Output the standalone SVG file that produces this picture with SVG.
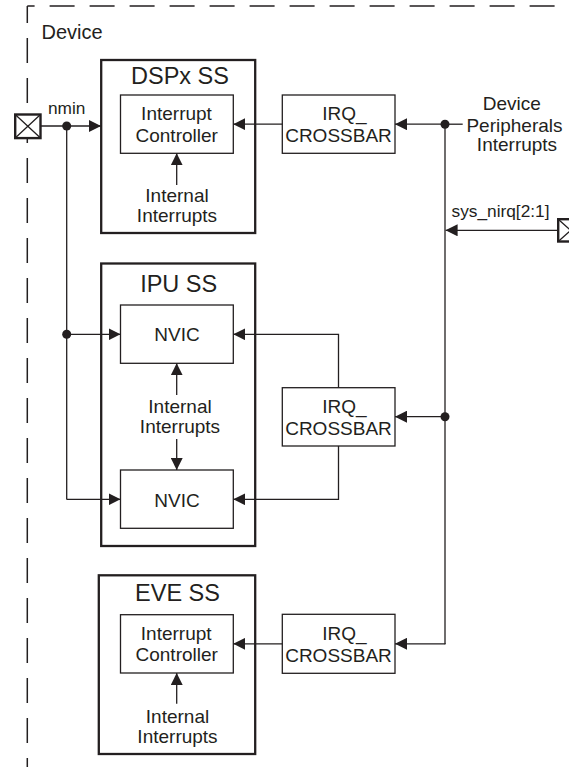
<svg xmlns="http://www.w3.org/2000/svg" width="569" height="767" viewBox="0 0 569 767">
<defs>
<marker id="ah" markerUnits="userSpaceOnUse" markerWidth="12" markerHeight="12" viewBox="0 0 12 12" refX="12" refY="6" orient="auto">
<path d="M0,0 L12,6 L0,12 z" fill="#231f20"/>
</marker>
<style>
.t{font-family:"Liberation Sans",Arial,Helvetica,sans-serif;fill:#231f20}
.lbl{font-size:19px;text-anchor:middle}
.ttl{font-size:23.5px;text-anchor:middle}
.sm{font-size:17.3px}
.outer{fill:#fff;stroke:#231f20;stroke-width:2.3}
.inner{fill:#fff;stroke:#231f20;stroke-width:1.3}
.ln{fill:none;stroke:#231f20;stroke-width:1.3}
.arr{fill:none;stroke:#231f20;stroke-width:1.3;marker-end:url(#ah)}
.dash{fill:none;stroke:#231f20;stroke-width:1.5;stroke-dasharray:25 15}
.pad{fill:#fff;stroke:#231f20;stroke-width:2.4}
.dot{fill:#231f20}
</style>
</defs>
<rect width="569" height="767" fill="#fff"/>

<g id="device">
<line class="dash" x1="27.3" y1="6" x2="569" y2="6" stroke-dashoffset="17.7"/>
<line class="dash" x1="27.3" y1="6" x2="27.3" y2="767" stroke-dashoffset="8"/>
<text class="t" x="41.5" y="38.5" font-size="20">Device</text>
</g>

<g id="dspx-ss">
<rect class="outer" x="101.2" y="60" width="154" height="173"/>
<text class="t ttl" x="180" y="84.3">DSPx SS</text>
<rect class="inner" x="120.5" y="95" width="112.8" height="58.3"/>
<text class="t lbl" x="176.5" y="120">Interrupt</text>
<text class="t lbl" x="176.7" y="141.7">Controller</text>
<text class="t lbl" x="177" y="201.7">Internal</text>
<text class="t lbl" x="177" y="221.7">Interrupts</text>
</g>

<g id="ipu-ss">
<rect class="outer" x="101.2" y="263.5" width="154" height="282.5"/>
<text class="t ttl" x="178.7" y="291.7">IPU SS</text>
<rect id="nvic-top" class="inner" x="120.5" y="305" width="112.8" height="58.3"/>
<text class="t lbl" x="177" y="340.7">NVIC</text>
<rect id="nvic-bottom" class="inner" x="120.5" y="470" width="112.8" height="58.3"/>
<text class="t lbl" x="177" y="507">NVIC</text>
<text class="t lbl" x="180" y="413.3">Internal</text>
<text class="t lbl" x="180" y="433">Interrupts</text>
</g>

<g id="eve-ss">
<rect class="outer" x="98.8" y="575.3" width="156.4" height="178.7"/>
<text class="t ttl" x="177.5" y="601">EVE SS</text>
<rect class="inner" x="120.5" y="614.7" width="112.8" height="58.3"/>
<text class="t lbl" x="176.2" y="639.7">Interrupt</text>
<text class="t lbl" x="176.7" y="661.3">Controller</text>
<text class="t lbl" x="177.5" y="722.7">Internal</text>
<text class="t lbl" x="177.5" y="742.7">Interrupts</text>
</g>

<g id="crossbar-dspx">
<rect class="inner" x="282.3" y="95" width="112.7" height="58.3"/>
<text class="t lbl" x="344.5" y="120">IRQ_</text>
<text class="t lbl" x="338.5" y="141.7">CROSSBAR</text>
</g>

<g id="crossbar-ipu">
<rect class="inner" x="282.3" y="387.7" width="112.7" height="58.3"/>
<text class="t lbl" x="344.5" y="413.3">IRQ_</text>
<text class="t lbl" x="338.5" y="435">CROSSBAR</text>
</g>

<g id="crossbar-eve">
<rect class="inner" x="282.3" y="614.3" width="112.7" height="59"/>
<text class="t lbl" x="344.5" y="640">IRQ_</text>
<text class="t lbl" x="338.5" y="661.7">CROSSBAR</text>
</g>

<g id="pad-nmin">
<rect class="pad" x="15.2" y="114.5" width="25.3" height="23.6"/>
<path class="ln" d="M15.2,114.5 L40.5,138.1 M40.5,114.5 L15.2,138.1" stroke-width="1.8"/>
<text class="t sm" x="48" y="114.3">nmin</text>
</g>

<g id="pad-sys-nirq">
<rect class="pad" x="558.2" y="219.2" width="25" height="22.3"/>
<path class="ln" d="M558.2,219.2 L583.2,241.5 M583.2,219.2 L558.2,241.5" stroke-width="1.8"/>
<text class="t sm" x="451.5" y="216.7">sys_nirq[2:1]</text>
</g>

<g id="peripherals-label">
<text class="t lbl" x="511.7" y="110">Device</text>
<text class="t lbl" x="514.5" y="131.7">Peripherals</text>
<text class="t lbl" x="517" y="151">Interrupts</text>
</g>

<g id="connectors">
<line class="arr" x1="40.5" y1="126" x2="101" y2="126"/>
<line class="ln" x1="66.7" y1="126" x2="66.7" y2="499.5"/>
<line class="arr" x1="66.7" y1="334.3" x2="120.5" y2="334.3"/>
<line class="arr" x1="66.7" y1="499.3" x2="120.5" y2="499.3"/>
<circle class="dot" cx="66.7" cy="126" r="4.5"/>
<circle class="dot" cx="66.7" cy="334.3" r="4.5"/>

<line class="arr" x1="176.7" y1="185" x2="176.7" y2="153.3"/>
<line class="arr" x1="176.7" y1="395" x2="176.7" y2="363.3"/>
<line class="arr" x1="176.7" y1="439" x2="176.7" y2="470"/>
<line class="arr" x1="176.7" y1="703.7" x2="176.7" y2="673"/>

<line class="arr" x1="282.3" y1="124.2" x2="233.3" y2="124.2"/>
<polyline class="arr" points="338.5,387.7 338.5,334.3 233.3,334.3"/>
<polyline class="arr" points="338.5,446 338.5,499.3 233.3,499.3"/>
<line class="arr" x1="282.3" y1="643.8" x2="233.3" y2="643.8"/>

<line class="ln" x1="445" y1="124.2" x2="445" y2="644.2"/>
<line class="ln" x1="445" y1="124.2" x2="462.7" y2="124.2"/>
<line class="arr" x1="445" y1="124.2" x2="395" y2="124.2"/>
<line class="arr" x1="445" y1="416.7" x2="395" y2="416.7"/>
<polyline class="arr" points="445,644.2 445,643.8 395,643.8"/>
<line class="arr" x1="558.2" y1="230.3" x2="445.6" y2="230.3"/>
<circle class="dot" cx="445" cy="124.2" r="4.5"/>
<circle class="dot" cx="445" cy="416.7" r="4.5"/>
</g>
</svg>
